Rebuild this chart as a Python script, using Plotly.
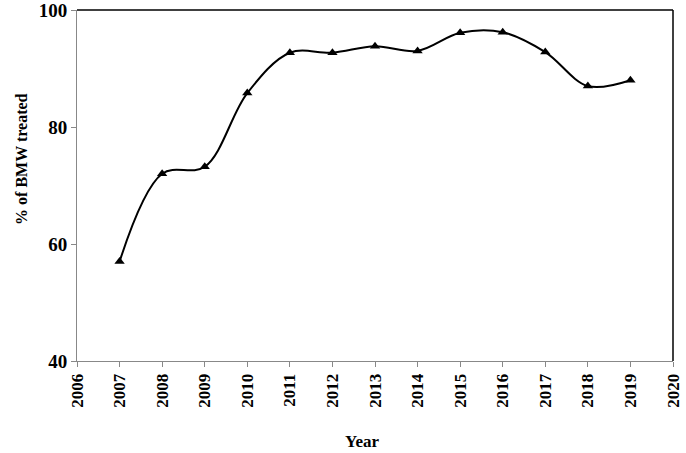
import plotly.graph_objects as go

years = [2007, 2008, 2009, 2010, 2011, 2012, 2013, 2014, 2015, 2016, 2017, 2018, 2019]
treated_pct = [57.0, 72.0, 73.2, 85.8, 92.7, 92.7, 93.8, 93.0, 96.1, 96.2, 92.8, 87.0, 88.0]
x_ticks = list(range(2006, 2021))
y_ticks = [40, 60, 80, 100]
x_title = "Year"
y_title = "% of BMW treated"

font_family = "Liberation Serif, Times New Roman, serif"

fig = go.Figure()
fig.add_trace(go.Scatter(
    x=years, y=treated_pct, mode="lines+markers",
    line=dict(color="black", width=2, shape="spline", smoothing=1.0),
    marker=dict(symbol="triangle-up", size=9, color="black"),
    showlegend=False,
))

fig.update_layout(
    width=686, height=453,
    margin=dict(l=77, r=13, t=10, b=92),
    paper_bgcolor="white", plot_bgcolor="white",
    font=dict(family=font_family, color="black"),
    xaxis=dict(
        range=[2006, 2020], tickmode="array", tickvals=x_ticks,
        ticktext=[f"<b>{t}</b>" for t in x_ticks], tickangle=-90,
        tickfont=dict(size=17, family=font_family),
        ticks="outside", ticklen=5, tickcolor="#888", showline=True,
        linecolor="#888", linewidth=1, showgrid=False, zeroline=False,
        automargin=False, ticklabeloverflow="allow",
    ),
    yaxis=dict(
        range=[40, 100], tickmode="array", tickvals=y_ticks,
        ticktext=[f"<b>{t}</b>" for t in y_ticks],
        tickfont=dict(size=19, family=font_family),
        ticks="outside", ticklen=5, tickcolor="#888", showline=True,
        linecolor="#888", linewidth=1, showgrid=False, zeroline=False,
        automargin=False, ticklabeloverflow="allow",
    ),
    shapes=[
        dict(type="line", xref="paper", yref="paper", x0=0, x1=1, y0=1, y1=1,
             line=dict(color="black", width=1.5)),
        dict(type="line", xref="paper", yref="paper", x0=1, x1=1, y0=0, y1=1,
             line=dict(color="black", width=1.5)),
    ],
    annotations=[
        dict(text=f"<b>{x_title}</b>", xref="paper", yref="paper", x=0.478, y=0,
             yshift=-80, xanchor="center", yanchor="middle", showarrow=False,
             font=dict(size=17, family=font_family, color="black")),
        dict(text=f"<b>{y_title}</b>", xref="paper", yref="paper", x=0, y=0.573,
             xshift=-55, xanchor="center", yanchor="middle", textangle=-90,
             showarrow=False, font=dict(size=16, family=font_family, color="black")),
    ],
)

# remove the page's default 8px body margin so the figure fills the window
fig.write_html("out.html", config={"displayModeBar": False},
               post_script="document.body.style.margin='0px';")
